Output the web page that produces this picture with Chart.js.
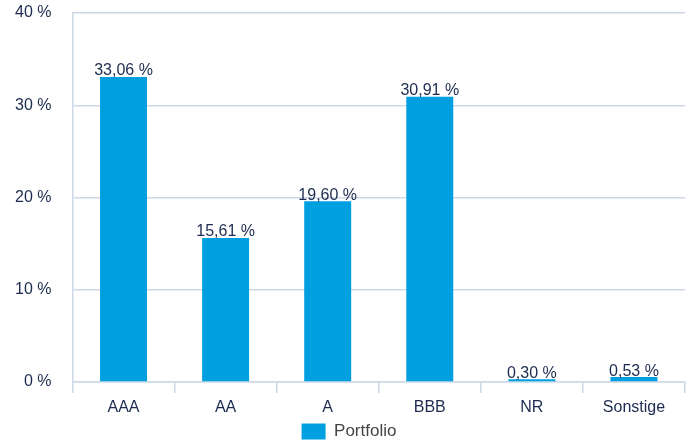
<!DOCTYPE html>
<html>
<head>
<meta charset="utf-8">
<script src="https://cdn.jsdelivr.net/npm/chart.js@4"></script>
<style>
  html, body { margin: 0; padding: 0; background: #fff; }
  #wrap { width: 693px; height: 441px; }
</style>
</head>
<body>
<div id="wrap"><canvas id="c" width="693" height="441"></canvas></div>
<script>
// Rating breakdown of the portfolio (share in %)
const categories = ['AAA', 'AA', 'A', 'BBB', 'NR', 'Sonstige'];
const portfolio = [33.06, 15.61, 19.60, 30.91, 0.30, 0.53];
const yTicks = [0, 10, 20, 30, 40];
const seriesName = 'Portfolio';

const FONT = '"Liberation Sans", Arial, sans-serif';
const fmt = v => v.toFixed(2).replace('.', ',') + ' %';

// Value text sitting on top of each bar
const valueLabels = {
  id: 'valueLabels',
  afterDatasetsDraw(chart) {
    const ctx = chart.ctx;
    const meta = chart.getDatasetMeta(0);
    ctx.save();
    ctx.font = '16px ' + FONT;
    ctx.fillStyle = '#1c2b4f';
    ctx.textAlign = 'center';
    ctx.textBaseline = 'bottom';
    meta.data.forEach((bar, i) => {
      ctx.fillText(fmt(portfolio[i]), bar.x, bar.y + 2);
    });
    ctx.restore();
  }
};

new Chart(document.getElementById('c'), {
  type: 'bar',
  data: {
    labels: categories,
    datasets: [{
      label: seriesName,
      data: portfolio,
      backgroundColor: '#009fe0',
      borderWidth: 0,
      categoryPercentage: 1,
      barPercentage: 0.46
    }]
  },
  options: {
    responsive: false,
    animation: false,
    // legend keeps a fixed empty strip below its row; let that strip fall off the canvas
    layout: { padding: { top: 13, right: 8, left: 13, bottom: -9 } },
    plugins: {
      tooltip: { enabled: false },
      legend: {
        position: 'bottom',
        labels: {
          boxWidth: 24,
          boxHeight: 16,
          padding: 0,
          color: '#444',
          font: { size: 17, family: FONT, lineHeight: 1 }
        }
      }
    },
    scales: {
      x: {
        grid: {
          offset: true,
          drawOnChartArea: false,
          color: '#cdd8e8',
          lineWidth: 1.5,
          tickLength: 11
        },
        border: { color: '#cdd8e8', width: 1.5 },
        ticks: {
          color: '#1c2b4f',
          padding: 7,
          font: { size: 16, family: FONT, lineHeight: 1 }
        }
      },
      y: {
        min: 0,
        max: 40,
        afterBuildTicks(axis) { axis.ticks = yTicks.map(v => ({ value: v })); },
        grid: {
          color: '#cdd8e8',
          lineWidth: 1.5,
          drawTicks: true,
          tickLength: 19,
          tickColor: 'rgba(0,0,0,0)'
        },
        border: { color: '#cdd8e8', width: 1.5 },
        ticks: {
          color: '#1c2b4f',
          padding: 2,
          callback: v => v + ' %',
          font: { size: 16, family: FONT }
        }
      }
    }
  },
  plugins: [valueLabels]
});
</script>
</body>
</html>
